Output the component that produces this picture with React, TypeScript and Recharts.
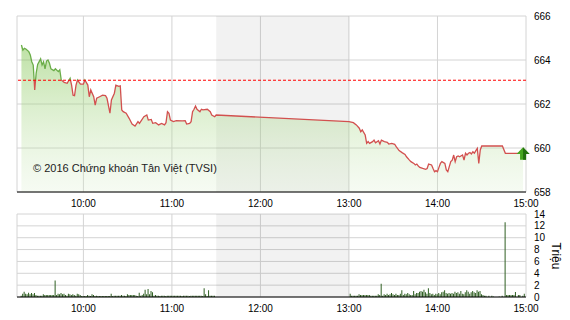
import React from "react"
import {
  Area,
  Bar,
  CartesianGrid,
  ComposedChart,
  ReferenceArea,
  ReferenceDot,
  ReferenceLine,
  XAxis,
  YAxis,
} from "recharts"

// price (index points) by clock time
const priceTimes = [
  "09:18", "09:19", "09:20", "09:21", "09:23", "09:24", "09:25", "09:26", "09:27", "09:28",
  "09:29", "09:31", "09:32", "09:33", "09:34", "09:35", "09:36", "09:37", "09:38", "09:40",
  "09:41", "09:43", "09:44", "09:45", "09:47", "09:49", "09:51", "09:52", "09:53", "09:54",
  "09:55", "09:56", "09:58", "10:00", "10:01", "10:03", "10:04", "10:05", "10:07", "10:08",
  "10:09", "10:11", "10:13", "10:15", "10:16", "10:18", "10:19", "10:21", "10:22", "10:24",
  "10:25", "10:26", "10:27", "10:29", "10:31", "10:33", "10:35", "10:37", "10:38", "10:41",
  "10:43", "10:44", "10:46", "10:47", "10:49", "10:51", "10:53", "10:55", "10:56", "10:57",
  "10:58", "10:59", "11:01", "11:03", "11:07", "11:09", "11:10", "11:12", "11:13", "11:14",
  "11:15", "11:16", "11:17", "11:19", "11:20", "11:21", "11:24", "11:26", "11:27", "11:29",
  "11:30", "13:00", "13:03", "13:05", "13:07", "13:08", "13:09", "13:11", "13:12", "13:13",
  "13:14", "13:16", "13:17", "13:18", "13:20", "13:21", "13:22", "13:24", "13:26", "13:27",
  "13:29", "13:31", "13:32", "13:34", "13:36", "13:38", "13:39", "13:41", "13:42", "13:44",
  "13:45", "13:46", "13:47", "13:48", "13:50", "13:52", "13:53", "13:54", "13:56", "13:57",
  "13:58", "13:59", "14:00", "14:01", "14:02", "14:03", "14:05", "14:06", "14:07", "14:09",
  "14:10", "14:11", "14:12", "14:13", "14:14", "14:15", "14:17", "14:18", "14:19", "14:20",
  "14:21", "14:22", "14:23", "14:24", "14:25", "14:26", "14:27", "14:28", "14:29", "14:30",
  "14:44", "14:46", "14:58",
]
const priceValues = [
  664.68, 664.45, 664.53, 664.5, 664.38, 664.23, 663.92, 663.77, 662.64, 663.4,
  663.8, 664.05, 663.77, 663.92, 663.6, 663.95, 664.0, 663.85, 663.6, 663.52,
  663.6, 663.47, 663.55, 663.09, 662.98, 662.94, 663.17, 662.86, 662.4, 662.38,
  662.86, 663.09, 662.9, 662.9, 663.09, 662.86, 662.33, 662.64, 662.33, 661.95,
  662.26, 662.33, 662.4, 662.38, 662.26, 661.58, 662.18, 662.49, 662.86, 662.8,
  662.82, 661.73, 661.65, 661.58, 661.35, 661.09, 661.0, 661.2, 661.12, 661.42,
  661.5, 661.27, 661.3, 661.12, 661.15, 661.05, 661.12, 661.05, 661.15, 661.65,
  661.58, 661.27, 661.2, 661.24, 661.23, 661.24, 661.09, 661.12, 661.2, 661.65,
  661.76, 661.91, 661.76, 661.65, 661.76, 661.73, 661.76, 661.65, 661.5, 661.42,
  661.5, 661.2, 661.15, 661.05, 660.9, 660.74, 660.82, 660.59, 660.21, 660.29,
  660.21, 660.29, 660.36, 660.24, 660.33, 660.18, 660.36, 660.29, 660.26, 660.18,
  660.21, 660.17, 660.06, 659.88, 659.79, 659.71, 659.6, 659.45, 659.38, 659.3,
  659.23, 659.27, 659.18, 659.12, 659.07, 659.03, 659.07, 659.27, 659.23, 659.07,
  658.92, 658.97, 658.92, 659.12, 659.3, 659.38, 659.3, 659.0, 658.92, 659.38,
  659.45, 659.68, 659.38, 659.6, 659.64, 659.6, 659.68, 659.45, 659.76, 659.68,
  659.76, 659.79, 659.73, 659.83, 659.76, 659.88, 659.98, 659.3, 659.91, 660.09,
  660.09, 659.76, 659.76,
]
const referencePrice = 663.08

// volume (millions) per minute for each session
const morningStart = "09:15"
const morningVolume = [
  0, 0, 0, 0.22, 0.56, 0.9, 0.56, 0.45, 0.73, 0.45,
  0.67, 0.45, 0.67, 0.34, 0.22, 0.22, 0.22, 0.22, 0.45, 0.34,
  0.34, 0.34, 0.34, 0.34, 0.34, 0.34, 2.8, 0.34, 0.56, 0.45,
  0.67, 0.45, 0.56, 0.34, 0.22, 0.56, 0.45, 0.34, 0.45, 0.34,
  0.22, 0.56, 0.45, 0.34, 0.15, 0.15, 0.15, 0.15, 0.34, 0.22,
  0.15, 0.45, 0.34, 0.15, 0.22, 0.15, 0.15, 0.15, 0.15, 0.15,
  0.15, 0.15, 0.15, 0.15, 0.56, 0.15, 0.22, 0.22, 0.22, 0.22,
  0.22, 0.34, 0.22, 0.22, 0.15, 0.45, 0.34, 0.34, 0.34, 0.34,
  0.34, 0.22, 0.15, 0.73, 0.22, 0.34, 0.56, 1.24, 0.45, 1.35,
  0.45, 1.0, 0.79, 0.22, 0.34, 0.22, 0.22, 0.15, 0.22, 0.22,
  0.22, 0.15, 0.22, 0.22, 0.22, 0.22, 0.22, 0.22, 0.22, 0.22,
  0.22, 0.22, 0.15, 0.22, 0.22, 0.22, 0.22, 0.15, 0.22, 0.22,
  0.22, 0.22, 0.22, 0.22, 0.22, 0.22, 0.15, 1.46, 0.45, 0.15,
  1.15, 0.22, 0.22, 0.22, 0.22, 0,
]
const afternoonStart = "13:00"
const afternoonVolume = [
  0, 0.55, 0.22, 0.22, 0.22, 0.22, 0.22, 0.45, 0.34, 0.34,
  0.34, 0.34, 0.34, 0.34, 0.34, 0.22, 0.22, 0.22, 0.22, 0.22,
  0.45, 0.34, 2.25, 0.22, 0.45, 0.34, 0.56, 0.34, 0.45, 0.67,
  0.45, 0.34, 0.56, 0.34, 0.34, 0.56, 1.12, 0.34, 0.56, 0.45,
  0.67, 0.45, 0.34, 0.34, 1.0, 0.45, 0.67, 0.67, 0.9, 1.0,
  0.9, 1.24, 0.79, 0.56, 1.46, 0.67, 0.45, 0.56, 0.34, 0.56,
  0.45, 0.67, 0.45, 0.79, 0.9, 1.12, 0.67, 0.56, 0.67, 0.56,
  0.67, 0.56, 0.9, 0.67, 0.79, 0.56, 1.0, 0.56, 0.45, 0.79,
  1.12, 0.9, 0.56, 0.79, 1.0, 0.79, 0.67, 1.12, 0.9, 1.0,
  0.45, 0.34, 0.22, 0.22, 0, 0.22, 0, 0.22, 0.1, 0,
  0, 0, 0.1, 0, 0.22, 0, 12.6, 0.34, 0.34, 0.34,
  0.34, 0.34, 0.34, 0.85, 0, 0.34, 0.34, 0, 0.22, 0.56, 0,
]

const timeTicks = ["09:15", "10:00", "11:00", "12:00", "13:00", "14:00", "15:00"]
const priceTicks = [658, 660, 662, 664, 666]
const volumeTicks = [0, 2, 4, 6, 8, 10, 12, 14]
const lunchBreak = ["11:30", "13:00"]

const toMin = (s: string) => {
  const [h, m] = s.split(":").map(Number)
  return h * 60 + m
}
const fmt = (v: number) => {
  if (v === toMin(timeTicks[0])) return ""
  const h = Math.floor(v / 60)
  const m = v % 60
  return `${h}:${String(m).padStart(2, "0")}`
}

const priceRows = priceTimes.map((t, i) => ({ t: toMin(t), v: priceValues[i] }))
const volumeRows = [
  ...morningVolume.map((vol, i) => ({ t: toMin(morningStart) + i, vol })),
  ...afternoonVolume.map((vol, i) => ({ t: toMin(afternoonStart) + i, vol })),
]

const xDomain = [toMin(timeTicks[0]), toMin(timeTicks[timeTicks.length - 1])]
const xTicks = timeTicks.map(toMin)

const pMax = Math.max(...priceValues)
const pMin = Math.min(...priceValues)
const split = (pMax - referencePrice) / (pMax - pMin)

const font = { fontSize: 10, fill: "#000", fontFamily: "Liberation Sans, Arial, sans-serif" }
const gridColor = "#d4d4d4"

const ArrowMarker = (props: any) => {
  const { cx, cy } = props
  return (
    <g>
      <polygon
        points={`${cx},${cy - 6} ${cx + 6.5},${cy + 0.8} ${cx + 3},${cy + 0.8} ${cx + 3},${cy + 6.5} ${cx - 3},${cy + 6.5} ${cx - 3},${cy + 0.8} ${cx - 6.5},${cy + 0.8}`}
        fill="#45a51f"
      />
      <polygon
        points={`${cx},${cy - 6} ${cx + 6.5},${cy + 0.8} ${cx + 3},${cy + 0.8} ${cx + 3},${cy + 6.5} ${cx},${cy + 6.5}`}
        fill="#23700f"
      />
    </g>
  )
}

export default function App() {
  const last = priceRows[priceRows.length - 1]
  return (
    <div style={{ position: "absolute", left: 0, top: 0, width: 570, height: 320, background: "#fff" }}>
      <div style={{ position: "absolute", left: 0, top: 0 }}>
        <ComposedChart width={570} height={212} data={priceRows} margin={{ top: 16, right: 0, bottom: 0, left: 17 }}>
          <defs>
            <linearGradient id="priceFill" x1="0" y1="0" x2="0" y2="1">
              <stop offset="0%" stopColor="#7cc24a" stopOpacity={0.5} />
              <stop offset="100%" stopColor="#d2ebc2" stopOpacity={0.2} />
            </linearGradient>
            <linearGradient id="priceStroke" x1="0" y1="0" x2="0" y2="1">
              <stop offset={split} stopColor="#6aad48" />
              <stop offset={split} stopColor="#d2504f" />
            </linearGradient>
          </defs>
          <ReferenceArea x1={toMin(lunchBreak[0])} x2={toMin(lunchBreak[1])} fill="#000" fillOpacity={0.05} stroke="none" />
          <CartesianGrid stroke={gridColor} />
          <XAxis
            dataKey="t"
            type="number"
            domain={xDomain}
            ticks={xTicks}
            tickFormatter={fmt}
            interval={0}
            height={20}
            tickLine={false}
            axisLine={{ stroke: "#000" }}
            tick={font}
            allowDataOverflow
          />
          <YAxis
            orientation="right"
            domain={[658, 666]}
            ticks={priceTicks}
            interval={0}
            width={44}
            axisLine={false}
            tickLine={false}
            tickMargin={2}
            tick={{ ...font, textAnchor: "start" }}
          />
          <Area
            dataKey="v"
            type="linear"
            stroke="url(#priceStroke)"
            strokeWidth={1.3}
            fill="url(#priceFill)"
            fillOpacity={1}
            isAnimationActive={false}
            dot={false}
            activeDot={false}
          />
          <ReferenceLine y={referencePrice} stroke="#ff0000" strokeDasharray="3 2" />
          <ReferenceDot x={last.t} y={last.v} r={6} shape={ArrowMarker} />
        </ComposedChart>
      </div>
      <div style={{ position: "absolute", left: 0, top: 206 }}>
        <ComposedChart width={570} height={114} data={volumeRows} margin={{ top: 8, right: 0, bottom: 3, left: 17 }}>
          <ReferenceArea x1={toMin(lunchBreak[0])} x2={toMin(lunchBreak[1])} fill="#000" fillOpacity={0.05} stroke="none" />
          <CartesianGrid stroke={gridColor} />
          <XAxis
            dataKey="t"
            type="number"
            domain={xDomain}
            ticks={xTicks}
            tickFormatter={fmt}
            interval={0}
            height={20}
            tickLine={false}
            axisLine={{ stroke: "#000" }}
            tick={font}
            allowDataOverflow
          />
          <YAxis
            orientation="right"
            domain={[0, 14]}
            ticks={volumeTicks}
            interval={0}
            width={44}
            axisLine={false}
            tickLine={false}
            tickMargin={2}
            tick={{ ...font, textAnchor: "start" }}
          />
          <Bar dataKey="vol" fill="#2f5f22" barSize={1} isAnimationActive={false} />
        </ComposedChart>
      </div>
      <div
        style={{
          position: "absolute",
          left: 33,
          top: 162,
          fontSize: 11,
          fontFamily: "Liberation Sans, Arial, sans-serif",
          color: "#222",
          whiteSpace: "nowrap",
        }}
      >
        © 2016 Chứng khoán Tân Việt (TVSI)
      </div>
      <div
        style={{
          position: "absolute",
          left: 541,
          top: 249,
          width: 30,
          height: 14,
          lineHeight: "14px",
          textAlign: "center",
          fontSize: 12,
          fontFamily: "Liberation Sans, Arial, sans-serif",
          color: "#000",
          transform: "rotate(90deg)",
        }}
      >
        Triệu
      </div>
    </div>
  )
}
